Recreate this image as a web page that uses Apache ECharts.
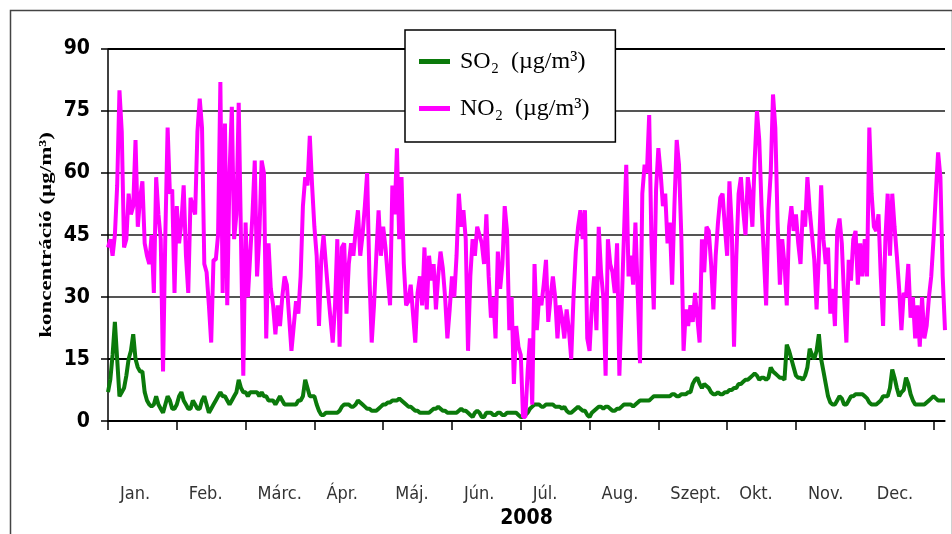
<!DOCTYPE html>
<html>
<head>
<meta charset="utf-8">
<script src="https://cdn.jsdelivr.net/npm/echarts@6/dist/echarts.min.js"></script>
<style>
html,body{margin:0;padding:0;background:#fff;}
#chart{width:952px;height:534px;}
</style>
</head>
<body>
<div id="chart"></div>
<script>
// Month labels (x axis), tick labels (y axis)
const months = ['Jan.', 'Feb.', 'Márc.', 'Ápr.', 'Máj.', 'Jún.', 'Júl.', 'Aug.', 'Szept.', 'Okt.', 'Nov.', 'Dec.'];
const yTicks = [0, 15, 30, 45, 60, 75, 90];
const year = '2008';
const seriesNames = ['SO\u2082  (\u00b5g/m\u00b3)', 'NO\u2082  (\u00b5g/m\u00b3)'];

// Daily SO2 concentration, 2008 (day 0 = Jan 1)
const so2 = [
7,10,16,24,15,6,7,8,11,15,17,21,15,13,12,12,7,5,4,3.5,
4,6,4,3,2,4,6,5,3,3,4,6,7,5,4,3,3,5,4,3,
3,5,6,4,2,3,4,5,6,7,6,6,5,4,5,6,7,10,8,7,
7,6,7,7,7,7,6,7,6,6,5,5,5,4,5,6,5,4,4,4,
4,4,4,5,5,6,10,8,6,6,6,4,2.5,1.5,1.5,2,2,2,2,2,
2,2.5,3.5,4,4,4,3.5,3.5,4,5,4.5,4,3.5,3,3,2.5,2.5,2.5,3,3.5,
4,4,4.5,4.5,5,5,5,5.5,5,4.5,4,3.5,3.5,3,2.5,2.5,2,2,2,2,
2,2.5,3,3,3.5,3,2.5,2.5,2,2,2,2,2,2.5,3,2.5,2.5,2,1.5,1,
2,2.5,2,1,1,2,2,2,1.5,1.5,2,2,1.5,1.5,2,2,2,2,2,1.5,
1,1,1.5,2,3,3.5,4,4,4,3.5,3.5,4,4,4,4,3.5,3.5,3.5,3,3.5,
2.5,2,2,2.5,3,3.5,3,2.5,2.5,1.5,1,2,2.5,3,3.5,3.5,3,3.5,3.5,3,
2.5,2.5,3,3,3.5,4,4,4,4,3.5,4,4.5,5,5,5,5,5,5.5,6,6,
6,6,6,6,6,6,6.5,6.5,6,6,6.5,6.5,6.5,7,7,9,10,10.5,9,8,
9,8.5,8,7,6.5,6.5,7,6.5,6.5,7,7,7.5,7.5,8,8,9,9,9.5,10,10,
10.5,11,11.5,11,10,10.5,10.5,10,10.5,13,12,11.5,11,10.5,10.5,10,18.5,17,15,13,
11,10.5,10.5,10,11,13,17.5,16,15,17,21,15,12,9,6,4.5,4,4,5,6,
5.5,4,4,5,6,6,6.5,6.5,6.5,6.5,6,5.5,4.5,4,4,4,4.5,5,6,6,
6,8,12.5,10.5,8,6,7,7.5,10.5,9,6.5,5,4,4,4,4,4,4.5,5,5.5,
6,5.5,5,5,5,5
];

// Daily NO2 concentration, 2008 (day 0 = Jan 1)
const no2 = [
42,44,40,45,57,80,70,42,44,55,50,52,68,47,54,58,43,40,38,45,
31,59,50,44,12,45,71,55,56,31,52,43,48,57,40,31,54,52,50,70,
78,71,38,36,28,19,39,39,45,82,31,72,28,60,76,44,50,77,44,11,
48,30,40,50,63,35,45,63,60,20,43,32,28,21,28,23,30,35,33,25,
17,23,29,26,35,52,59,57,69,57,47,40,23,39,45,38,31,25,19,28,
44,18,42,43,26,38,43,40,46,51,40,45,52,60,35,19,28,40,51,40,
47,42,35,28,57,50,66,44,59,38,28,29,33,26,19,31,35,28,42,27,
40,34,38,27,35,41,37,30,20,27,35,30,40,55,47,51,44,17,35,44,
40,47,45,43,38,50,35,25,30,20,41,32,38,52,46,22,30,9,23,18,
16,1,1,12,20,4,38,22,30,28,33,39,24,30,35,30,20,28,25,20,
27,22,15,30,41,47,51,44,51,20,17,28,35,22,47,36,30,11,44,38,
36,31,43,11,28,45,62,35,40,33,48,31,14,55,62,60,74,43,27,56,
66,60,52,55,43,48,33,52,68,62,45,17,27,23,28,24,31,25,19,44,
36,47,46,38,27,40,48,54,55,47,40,58,47,18,40,55,59,51,45,59,
55,47,63,75,68,52,40,28,51,60,79,71,48,33,44,38,28,47,52,46,
50,43,38,51,47,59,51,45,39,27,40,57,44,38,42,26,32,23,46,49,
43,30,19,39,34,44,46,33,43,35,44,35,71,55,47,46,50,35,23,44,
55,40,55,47,40,32,22,31,30,38,25,30,20,28,18,30,20,23,30,35,
44,55,65,59,35,22
];

const chart = echarts.init(document.getElementById('chart'), null, {renderer: 'canvas'});

const xTickVals = [];
for (let i = 0; i <= 12; i++) xTickVals.push(i * 30);
const xLabelVals = xTickVals.slice(0, 12);
const narrow = "'Liberation Sans Narrow', 'DejaVu Sans Condensed', 'DejaVu Sans', sans-serif";

const option = {
  backgroundColor: '#fff',
  animation: false,
  grid: {left: 108, top: 49, right: 7, bottom: 110, containLabel: false},
  legend: {
    orient: 'vertical',
    left: 405,
    top: 30,
    data: seriesNames,
    icon: 'rect',
    itemWidth: 31,
    itemHeight: 5,
    itemGap: 20,
    padding: [18, 26, 20, 14],
    borderColor: '#000',
    borderWidth: 1.5,
    backgroundColor: '#fff',
    textStyle: {fontFamily: "'Liberation Serif', 'DejaVu Serif', serif", fontSize: 24, color: '#000', lineHeight: 27, padding: [0, 0, 0, 5]}
  },
  xAxis: {
    type: 'value',
    min: 0,
    max: 365,
    interval: 30,
    name: year,
    nameLocation: 'middle',
    nameGap: 85,
    nameTextStyle: {fontFamily: narrow, fontWeight: 'bold', fontSize: 21, color: '#000'},
    axisLine: {show: true, lineStyle: {color: '#000', width: 1.5}},
    axisTick: {show: true, length: 9, lineStyle: {color: '#000', width: 1.5}, customValues: xTickVals},
    axisLabel: {
      customValues: xLabelVals,
      formatter: function (v) { const i = Math.round(v / 30); return months[i] || ''; },
      align: 'left',
      padding: [0, 0, 0, 12],
      margin: 64,
      fontFamily: narrow,
      fontSize: 18,
      color: '#333'
    },
    splitLine: {show: false}
  },
  yAxis: {
    type: 'value',
    min: 0,
    max: 90,
    interval: 15,
    axisLine: {show: true, lineStyle: {color: '#000', width: 1.5}},
    axisTick: {show: true, length: 7, lineStyle: {color: '#000', width: 1.5}},
    axisLabel: {
      margin: 18,
      fontFamily: narrow,
      fontWeight: 'bold',
      fontSize: 21,
      color: '#000'
    },
    splitLine: {show: true, lineStyle: {color: ['#000', '#000', '#555', '#555', '#555', '#555', '#000'], width: 2}}
  },
  graphic: [
    {type: 'rect', left: 8, top: 8, shape: {width: 942, height: 540}, style: {fill: 'none', stroke: '#444', lineWidth: 1.5}, z: -1},
    {
      type: 'text',
      x: 47, y: 235,
      rotation: Math.PI / 2,
      scaleX: 1.35,
      style: {
        text: 'koncentráció (\u00b5g/m\u00b3)',
        font: "bold 17px 'Liberation Serif', 'DejaVu Serif', serif",
        fill: '#000',
        align: 'center',
        verticalAlign: 'middle'
      }
    }
  ],
  series: [
    {
      name: seriesNames[0],
      type: 'line',
      data: so2.map((v, i) => [i, v]),
      symbol: 'none',
      color: '#0B7A0B',
      lineStyle: {color: '#0B7A0B', width: 4},
      z: 2
    },
    {
      name: seriesNames[1],
      type: 'line',
      data: no2.map((v, i) => [i, v]),
      symbol: 'none',
      color: '#FF00FF',
      lineStyle: {color: '#FF00FF', width: 4},
      z: 3
    }
  ]
};
chart.setOption(option);
</script>
</body>
</html>
